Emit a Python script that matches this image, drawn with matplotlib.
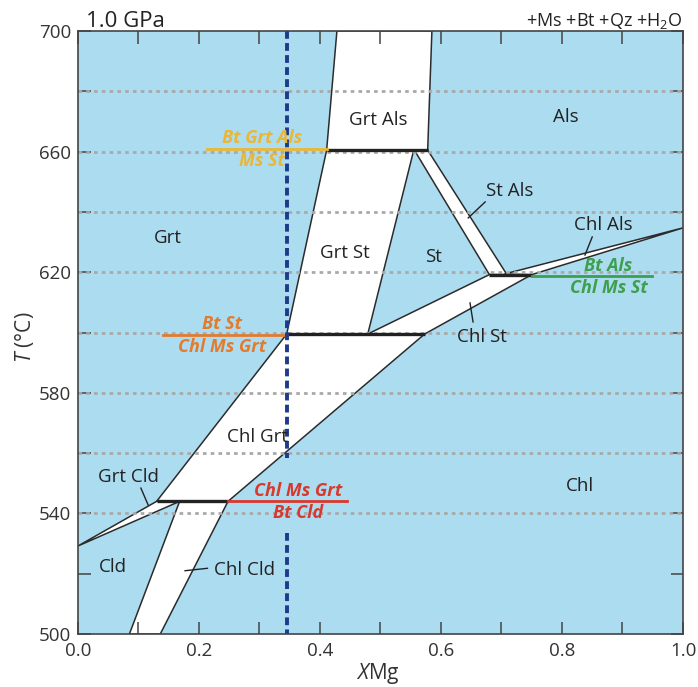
import matplotlib
matplotlib.use('Agg')
import matplotlib.pyplot as plt

plt.rcParams['font.family'] = ['Open Sans', 'DejaVu Sans']
plt.rcParams['mathtext.fontset'] = 'custom'
plt.rcParams['mathtext.rm'] = 'Open Sans'
plt.rcParams['mathtext.it'] = 'Open Sans:italic'

# white (three-phase) fields: vertices as XMg / T(degC)
field_xmg = [
    [0.428, 0.585, 0.578, 0.411],   # Grt Als
    [0.411, 0.555, 0.479, 0.345],   # Grt St
    [0.556, 0.578, 0.709, 0.680],   # St Als
    [0.479, 0.573, 0.750, 0.680],   # Chl St
    [0.705, 1.000, 0.750],          # Chl Als
    [0.345, 0.573, 0.248, 0.130],   # Chl Grt
    [0.000, 0.130, 0.168],          # Grt Cld
    [0.168, 0.248, 0.136, 0.085],   # Chl Cld
]
field_t = [
    [700, 700, 660.5, 660.5],
    [660.5, 660.5, 599.5, 599.5],
    [660.5, 660.5, 619.2, 619.2],
    [599.5, 599.5, 619.2, 619.2],
    [619.4, 634.7, 619.2],
    [599.5, 599.5, 544.0, 544.0],
    [529.2, 544.0, 544.0],
    [544.0, 544.0, 500, 500],
]

# invariant (horizontal) reactions
inv_t = [660.5, 619.2, 599.5, 544.0]
inv_x0 = [0.411, 0.680, 0.345, 0.130]
inv_x1 = [0.578, 0.750, 0.573, 0.248]

# reaction labels
rxn_top = ['Bt Grt Als', 'Bt St', 'Bt Als', 'Chl Ms Grt']
rxn_bottom = ['Ms St', 'Chl Ms Grt', 'Chl Ms St', 'Bt Cld']
rxn_t = [660.8, 599.3, 618.6, 544.0]
rxn_x0 = [0.213, 0.140, 0.750, 0.248]
rxn_x1 = [0.411, 0.345, 0.949, 0.445]
rxn_text_x = [0.304, 0.238, 0.877, 0.364]
rxn_colors = ['#EBB634', '#E37B2F', '#3E9F4D', '#D9382C']

# field labels
label_names = ['Grt', 'Als', 'St', 'Chl', 'Cld', 'Grt Als', 'Grt St', 'Chl Grt',
               'Grt Cld', 'Chl Cld', 'St Als', 'Chl Als', 'Chl St']
label_x = [0.149, 0.807, 0.587, 0.830, 0.058, 0.496, 0.441, 0.296,
           0.083, 0.276, 0.713, 0.868, 0.668]
label_t = [631.3, 671.5, 625.0, 549.0, 522.2, 670.5, 626.4, 565.3,
           552.0, 521.2, 647.0, 635.7, 598.5]

# leader lines from labels into narrow fields
ptr_x0 = [0.104, 0.177, 0.645, 0.838, 0.648]
ptr_t0 = [548.4, 521.0, 638.0, 625.7, 609.8]
ptr_x1 = [0.116, 0.214, 0.673, 0.850, 0.653]
ptr_t1 = [542.8, 521.8, 643.3, 631.7, 603.5]

grid_t = [540, 560, 580, 600, 620, 640, 660, 680]
section_x = 0.345
section_t0 = [700, 533.5]
section_t1 = [558.5, 500]

fig = plt.figure(figsize=(6.98, 6.87), dpi=100)
ax = fig.add_axes([0.1117, 0.0771, 0.8668, 0.8778])
ax.set_facecolor('#ACDCF0')
ax.set_xlim(0, 1)
ax.set_ylim(500, 700)

for xs, ts in zip(field_xmg, field_t):
    ax.fill(xs, ts, facecolor='white', edgecolor='#2b2b2b', linewidth=1.1, zorder=1)

for t in grid_t:
    ax.axhline(t, color='#A9A9A9', linewidth=2.0, dashes=(1.3, 1.5), zorder=2)

for t, x0, x1 in zip(inv_t, inv_x0, inv_x1):
    ax.plot([x0, x1], [t, t], color='#222222', linewidth=2.4, solid_capstyle='butt', zorder=4)

for i in range(len(rxn_top)):
    c = rxn_colors[i]
    ax.plot([rxn_x0[i], rxn_x1[i]], [rxn_t[i], rxn_t[i]], color=c, linewidth=2.0, zorder=4)
    ax.text(rxn_text_x[i], rxn_t[i] + 3.6, rxn_top[i], color=c, fontsize=13,
            fontweight='bold', fontstyle='italic', ha='center', va='center', zorder=6)
    ax.text(rxn_text_x[i], rxn_t[i] - 4.0, rxn_bottom[i], color=c, fontsize=13,
            fontweight='bold', fontstyle='italic', ha='center', va='center', zorder=6)

for name, x, t in zip(label_names, label_x, label_t):
    ax.text(x, t, name, fontsize=13.5, color='#222222', ha='center', va='center', zorder=6)

for x0, t0, x1, t1 in zip(ptr_x0, ptr_t0, ptr_x1, ptr_t1):
    ax.plot([x0, x1], [t0, t1], color='#222222', linewidth=1.0, zorder=4)

for t0, t1 in zip(section_t0, section_t1):
    ax.plot([section_x, section_x], [t0, t1], color='#1E3A8C', linewidth=2.8,
            dashes=(2.0, 1.1), zorder=5)

ax.set_xticks([i / 10 for i in range(11)])
ax.set_xticklabels(['0.0', '', '0.2', '', '0.4', '', '0.6', '', '0.8', '', '1.0'])
ax.set_yticks(range(500, 701, 20))
ax.set_yticklabels(['500', '', '540', '', '580', '', '620', '', '660', '', '700'])
ax.tick_params(direction='in', length=9, width=1.1, color='#444444', top=True, right=True,
               labelsize=13.5, labelcolor='#333333')
ax.tick_params(axis='x', pad=6)
ax.tick_params(axis='y', pad=5)
for s in ax.spines.values():
    s.set_color('#444444')
    s.set_linewidth(1.2)
    s.set_zorder(7)

fig.text(86 / 698, 1 - 27 / 687, '1.0 GPa', fontsize=16, color='#222222', ha='left', va='baseline')
fig.text(682 / 698, 1 - 26 / 687, '+Ms +Bt +Qz +H$_2$O', fontsize=13, color='#222222',
         ha='right', va='baseline')
fig.text(378 / 698, 1 - 673 / 687, '$X$Mg', fontsize=15, color='#333333', ha='center', va='center')
fig.text(24 / 698, 1 - 337 / 687, '$T$ (°C)', fontsize=15, color='#333333', rotation=90,
         ha='center', va='center')

fig.savefig('out.png', dpi=100)
